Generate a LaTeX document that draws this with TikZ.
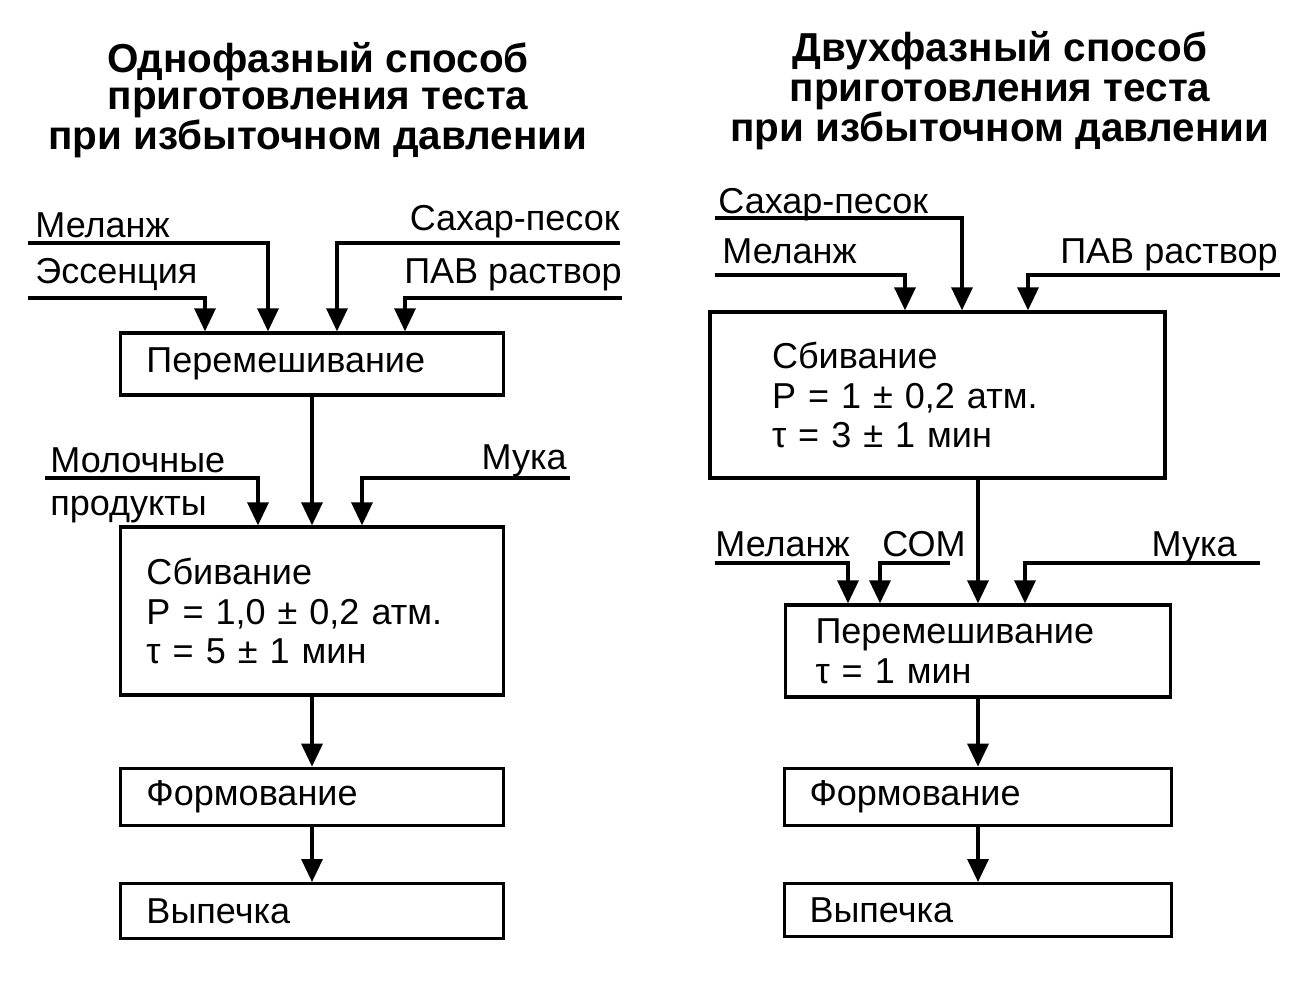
\documentclass[tikz,border=0pt]{standalone}
\usepackage{fontspec}
\setmainfont{Liberation Sans}
\usetikzlibrary{arrows.meta,positioning,calc}
\tikzset{
  procbox/.style={rectangle, draw=black, line width=1.9pt, align=left,
                  inner ysep=0pt, font=\fontsize{20.5}{22.7}\selectfont},
  leftbox/.style={procbox, text width=6.62cm, inner xsep=0.52cm},
  feedlbl/.style={inner sep=0pt, font=\fontsize{20.5}{24}\selectfont},
  titletxt/.style={align=center, inner sep=0pt, font=\bfseries\fontsize{23}{21.5}\selectfont},
  feedarr/.style={-{Triangle[length=4.6mm,width=4.2mm]}, line width=1.9pt},
}

\begin{document}
\begin{tikzpicture}[x=0.2mm, y=-0.2mm]
    \useasboundingbox (0,0) rectangle (1298,980);
    % titles
    \node[titletxt] (ttl1) at (318,100) {Однофазный способ\\приготовления теста\\при избыточном давлении};
    \node[titletxt, font=\bfseries\fontsize{23}{22.7}\selectfont] (ttl2) at (1000,91) {Двухфазный способ\\приготовления теста\\при избыточном давлении};

    % one-phase method
    \node[leftbox, minimum height=1.24cm] (mix1) at (312,364) {Перемешивание};
    \node[leftbox, minimum height=3.36cm] (whip1) at (312,611)
          {Сбивание\\P = 1,0 ± 0,2 атм.\\τ = 5 ± 1 мин};
    \node[leftbox, minimum height=1.14cm, below=1.4cm of whip1] (form1) {Формование};
    \node[leftbox, minimum height=1.1cm, below=1.1cm of form1] (bake1) {Выпечка};

    \node[feedlbl, anchor=base west] (mel1l) at (35,237) {Меланж};
    \node[feedlbl, anchor=base west] (ess1l) at (35,283) {Эссенция};
    \node[feedlbl, anchor=base east] (sug1l) at (620,231) {Сахар-песок};
    \node[feedlbl, anchor=base east] (pav1l) at (622,283) {ПАВ раствор};
    \node[feedlbl, anchor=base west] (milk1l) at (50,472) {Молочные};
    \node[feedlbl, anchor=base west] (milk1m) at (50,515) {продукты};
    \node[feedlbl, anchor=base east] (flour1l) at (567,469) {Мука};

    \coordinate (mel1) at (28,243);
    \coordinate (ess1) at (28,298);
    \coordinate (sug1) at (620,243);
    \coordinate (pav1) at (622,298);
    \coordinate (milk1) at (45,478);
    \coordinate (flour1) at (570,478);

    \draw[feedarr] (mel1) -| (268,0 |- mix1.north);
    \draw[feedarr] (ess1) -| (205,0 |- mix1.north);
    \draw[feedarr] (sug1) -| (337,0 |- mix1.north);
    \draw[feedarr] (pav1) -| (405,0 |- mix1.north);
    \draw[feedarr] (milk1) -| (258,0 |- whip1.north);
    \draw[feedarr] (flour1) -| (362,0 |- whip1.north);
    \draw[feedarr] (mix1.south -| whip1.north) -- (whip1.north);
    \draw[feedarr] (whip1) -- (form1);
    \draw[feedarr] (form1) -- (bake1);

    % two-phase method
    \node[procbox, text width=6.62cm, inner xsep=1.24cm, minimum height=3.32cm] (whip2) at (937.5,395)
          {Сбивание\\P = 1 ± 0,2 атм.\\τ = 3 ± 1 мин};
    \node[procbox, text width=6.5cm, inner xsep=0.6cm, minimum height=1.84cm] (mix2) at (978,651)
          {Перемешивание\\τ = 1 мин};
    \node[procbox, text width=6.74cm, inner xsep=0.5cm, minimum height=1.14cm, below=1.36cm of mix2] (form2) {Формование};
    \node[procbox, text width=6.74cm, inner xsep=0.5cm, minimum height=1.06cm, below=1.1cm of form2] (bake2) {Выпечка};

    \node[feedlbl, anchor=base west] (sug2l) at (718,213) {Сахар-песок};
    \node[feedlbl, anchor=base west] (mel2l) at (722,263) {Меланж};
    \node[feedlbl, anchor=base east] (pav2l) at (1278,263) {ПАВ раствор};
    \node[feedlbl, anchor=base west] (mel3l) at (715,556) {Меланж};
    \node[feedlbl, anchor=base west] (som3l) at (882,556) {СОМ};
    \node[feedlbl, anchor=base east] (flour3l) at (1237,556) {Мука};

    \coordinate (sug2) at (715,218);
    \coordinate (mel2) at (715,275);
    \coordinate (pav2) at (1280,275);
    \coordinate (mel3) at (715,563);
    \coordinate (som3) at (950,563);
    \coordinate (flour3) at (1260,563);

    \draw[feedarr] (sug2) -| (962,0 |- whip2.north);
    \draw[feedarr] (mel2) -| (905,0 |- whip2.north);
    \draw[feedarr] (pav2) -| (1028,0 |- whip2.north);
    \draw[feedarr] (mel3) -| (848,0 |- mix2.north);
    \draw[feedarr] (som3) -| (880,0 |- mix2.north);
    \draw[feedarr] (flour3) -| (1025,0 |- mix2.north);
    \draw[feedarr] (mix2.north |- whip2.south) -- (mix2.north);
    \draw[feedarr] (mix2) -- (form2);
    \draw[feedarr] (form2) -- (bake2);
  \end{tikzpicture}
\end{document}
